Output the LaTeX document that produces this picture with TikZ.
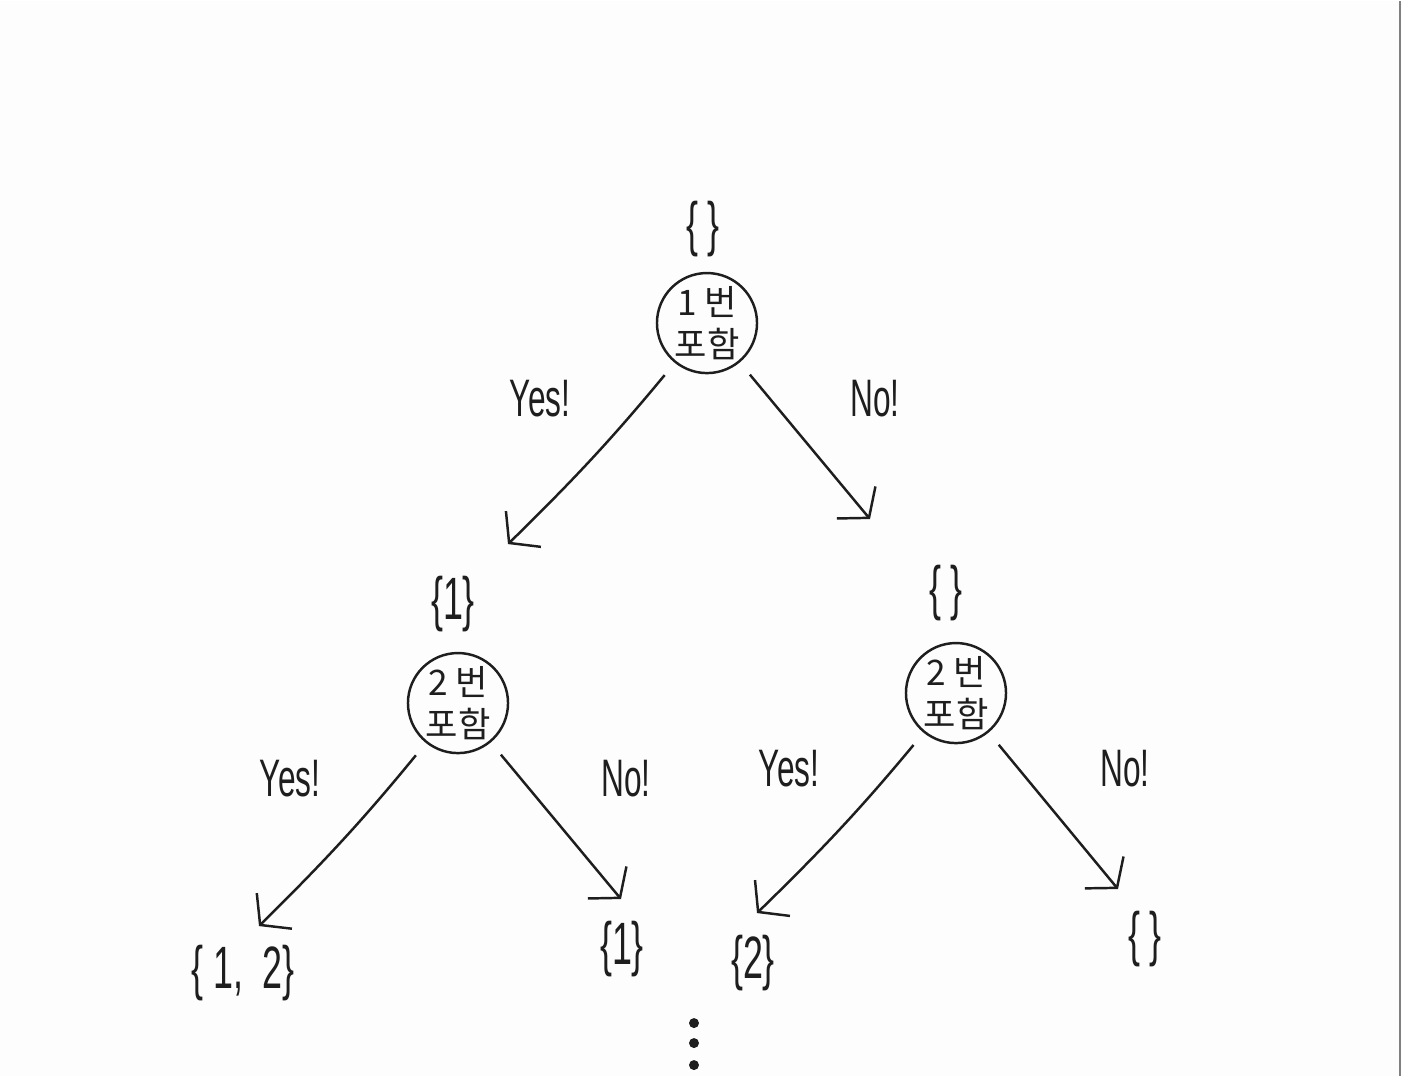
\documentclass[tikz,border=0pt]{standalone}
\usepackage{fontspec}
\setmainfont{Liberation Sans}[FakeStretch=0.6]
\newfontfamily\kor{Noto Sans CJK KR}
\usetikzlibrary{arrows.meta}
\definecolor{paper}{RGB}{253,253,253}
\definecolor{ink}{RGB}{30,30,30}
\begin{document}
\begin{tikzpicture}[x=0.01cm, y=-0.01cm, >={Straight Barb[length=2mm,width=5mm]},
  test/.style={draw=ink, circle, minimum size=1cm, inner sep=0pt, line width=0.7pt,
    align=center, font=\kor\fontsize{10}{12}\selectfont, text=ink},
  subset/.style={font=\fontsize{17}{20}\selectfont, text=ink, inner sep=1pt},
  answer/.style={font=\fontsize{15}{18}\selectfont, text=ink},
  branch/.style={->, draw=ink, line width=0.7pt, shorten <=4.5pt}]
% paper
\fill[paper] (0,0) rectangle (1402,1075);
\draw[gray, line width=0.6pt] (1400,0) -- (1400,1075);
% level 0
\node[subset] (s0) at (703,228) {\{\,\}};
\node[test] (root) at (707,322) {1 번\\포함};
% level 1
\node[subset] (s1) at (453,603) {\{1\}};
\node[test] (left) at (458,702) {2 번\\포함};
\node[subset] (s2) at (946,592) {\{\,\}};
\node[test] (right) at (956,692) {2 번\\포함};
% leaves
\node[subset] (s12) at (243,972) {\{ 1,\, 2\}};
\node[subset] (s1n) at (622,948) {\{1\}};
\node[subset] (s2y) at (753,962) {\{2\}};
\node[subset] (snn) at (1145,938) {\{\,\}};
% arrow tips
\coordinate (t1) at (508,543);
\coordinate (t2) at (870,518);
\coordinate (t3) at (259,925);
\coordinate (t4) at (621,898);
\coordinate (t5) at (757,912);
\coordinate (t6) at (1118,888);
% branches
\draw[branch] (root) to[bend left=3] (t1);
\draw[branch] (root) -- (t2);
\draw[branch] (left) to[bend left=3] (t3);
\draw[branch] (left) -- (t4);
\draw[branch] (right) to[bend left=3] (t5);
\draw[branch] (right) -- (t6);
% yes / no
\node[answer] (y0) at (540,398) {Yes!};
\node[answer] (n0) at (875,398) {No!};
\node[answer] (y1) at (290,778) {Yes!};
\node[answer] (n1) at (626,778) {No!};
\node[answer] (y2) at (789,768) {Yes!};
\node[answer] (n2) at (1125,768) {No!};
% more
\foreach \y in {1022,1042,1064}
  \fill[ink] (694,\y) circle (5);
\end{tikzpicture}
\end{document}
